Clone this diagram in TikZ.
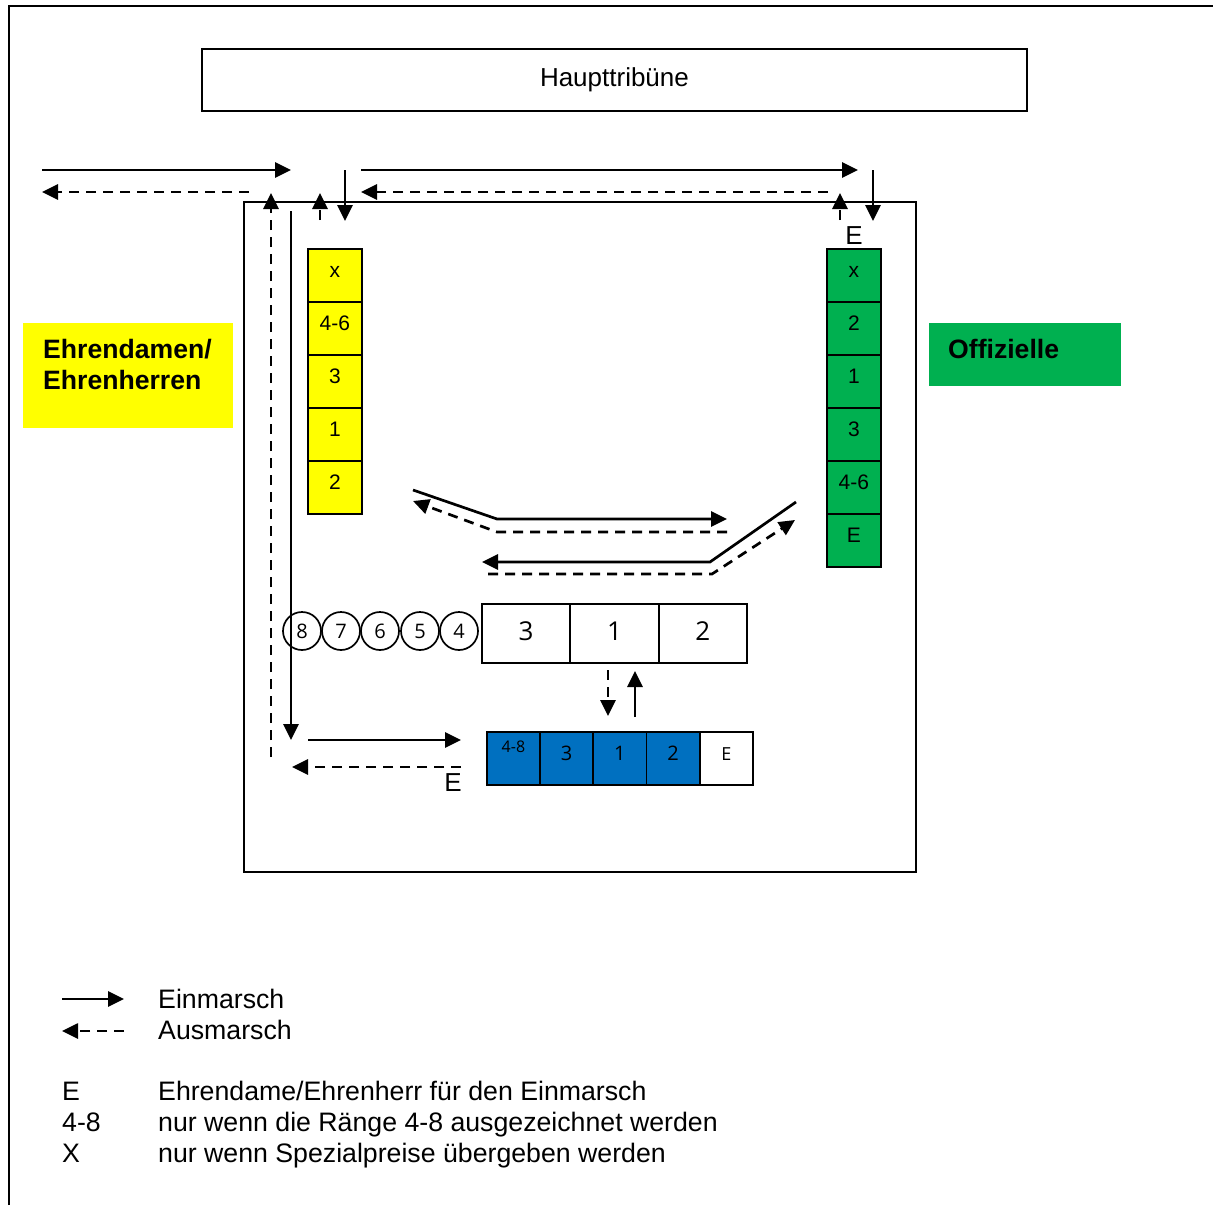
\documentclass[tikz,border=0pt]{standalone}
\usepackage{fontspec}
\setmainfont{Liberation Sans}
\newfontfamily\osans{Open Sans}
\usetikzlibrary{arrows.meta}
\definecolor{yel}{HTML}{FFFF00}
\definecolor{grn}{HTML}{00B050}
\definecolor{blu}{HTML}{0070C0}
\begin{document}
\begin{tikzpicture}[x=1pt,y=-1pt,
  ln/.style={line width=2.7pt},
  arr/.style={ln,-{Triangle[length=16pt,width=15pt]}},
  darr/.style={arr,dash pattern=on 10pt off 7pt},
  frame/.style={draw,line width=1.9pt},
  ycell/.style={draw,line width=1.7pt,fill=yel,minimum width=54pt,minimum height=53pt,inner sep=0pt,anchor=north west,font=\fontsize{21}{23}\selectfont,text height=15pt,text depth=10pt},
  gcell/.style={ycell,fill=grn},
  bigcell/.style={draw,line width=2pt,minimum width=88.3pt,minimum height=59pt,inner sep=0pt,anchor=north west,font=\osans\fontsize{26}{28}\selectfont,text height=19pt,text depth=6pt},
  bcell/.style={draw,line width=1.7pt,fill=blu,minimum width=53.2pt,minimum height=53pt,inner sep=0pt,anchor=north west,font=\osans\fontsize{20}{22}\selectfont,text height=15pt,text depth=10pt},
  circ/.style={draw,circle,line width=1.7pt,fill=white,minimum size=38pt,inner sep=0pt,font=\osans\fontsize{20}{22}\selectfont},
  lbl/.style={font=\fontsize{26}{28}\selectfont,inner sep=0pt},
  leg/.style={font=\fontsize{26.7}{29}\selectfont,inner sep=0pt,anchor=base west},
  bold/.style={font=\bfseries\fontsize{26.6}{31}\selectfont,align=left,inner sep=0pt,anchor=west}
]
\useasboundingbox (0,0) rectangle (1213,1205);
% outer frame
\draw[line width=2pt] (9,1205) -- (9,6) -- (1213,6);
% Haupttribuene
\node[frame,minimum width=825pt,minimum height=62pt,anchor=north west,font=\fontsize{26}{28}\selectfont] (haupt) at (201,48) {Haupttribüne};
% inner field
\node[frame,minimum width=672pt,minimum height=670pt,anchor=north west] (field) at (243,201) {};
% side labels
\node[fill=yel,minimum width=210pt,minimum height=105pt,anchor=north west] (ehbox) at (23,323) {};
\node[bold] (ehtext) at (43,364) {Ehrendamen/\\Ehrenherren};
\node[fill=grn,minimum width=192pt,minimum height=63pt,anchor=north west] (offbox) at (929,323) {};
\node[bold] (offtext) at (948,349) {Offizielle};
% yellow column
\foreach \t [count=\i] in {x,4-6,3,1,2}
  \node[ycell] (y\i) at (307,{248+53*(\i-1)}) {\t};
% green column
\foreach \t [count=\i] in {x,2,1,3,4-6,E}
  \node[gcell] (g\i) at (826,{248+53*(\i-1)}) {\t};
% podium
\node[bigcell] (p3) at (481,603) {3};
\node[bigcell] (p1) at (569.3,603) {1};
\node[bigcell] (p2) at (657.6,603) {2};
% circles
\node[circ] (c8) at (302,631) {8};
\node[circ] (c7) at (341,631) {7};
\node[circ] (c6) at (380,631) {6};
\node[circ] (c5) at (420,631) {5};
\node[circ] (c4) at (459,631) {4};
% blue row
\node[bcell,font=\osans\fontsize{16}{18}\selectfont,text height=12pt,text depth=24pt] (b48) at (486,731) {4-8};
\node[bcell] (b3) at (539.2,731) {3};
\node[bcell] (b1) at (592.4,731) {1};
\node[bcell] (b2) at (645.6,731) {2};
\node[bcell,fill=white,font=\osans\fontsize{18}{20}\selectfont] (bE) at (698.8,731) {E};
% E labels
\node[lbl] (e1) at (854,236) {E};
\node[lbl] (e2) at (453,783) {E};
% coordinates for arrows
\coordinate (a1s) at (42,170); \coordinate (a1e) at (291,170);
\coordinate (a2s) at (249,192); \coordinate (a2e) at (42,192);
\coordinate (a3s) at (271,757); \coordinate (a3e) at (271,193);
\coordinate (a4s) at (291,211); \coordinate (a4e) at (291,740);
\coordinate (a5s) at (320,220); \coordinate (a5e) at (320,193);
\coordinate (a6s) at (345,170); \coordinate (a6e) at (345,221);
\coordinate (a7s) at (361,170); \coordinate (a7e) at (858,170);
\coordinate (a8s) at (828,192); \coordinate (a8e) at (361,192);
\coordinate (a9s) at (840,220); \coordinate (a9e) at (840,193);
\coordinate (a10s) at (873,170); \coordinate (a10e) at (873,221);
\coordinate (d1a) at (413,490); \coordinate (d1b) at (497,519); \coordinate (d1c) at (727,519);
\coordinate (d2a) at (727,532); \coordinate (d2b) at (497,532); \coordinate (d2c) at (413,501);
\coordinate (d3a) at (796,502); \coordinate (d3b) at (710,562); \coordinate (d3c) at (482,562);
\coordinate (d4a) at (488,574); \coordinate (d4b) at (712,574); \coordinate (d4c) at (795,520);
\coordinate (v1s) at (608,670); \coordinate (v1e) at (608,716);
\coordinate (v2s) at (635,717); \coordinate (v2e) at (635,671);
\coordinate (h1s) at (308,740); \coordinate (h1e) at (461,740);
\coordinate (h2s) at (461,767); \coordinate (h2e) at (292,767);
% arrows
\draw[arr] (a1s) -- (a1e);
\draw[darr] (a2s) -- (a2e);
\draw[darr] (a3s) -- (a3e);
\draw[arr] (a4s) -- (a4e);
\draw[darr] (a5s) -- (a5e);
\draw[arr] (a6s) -- (a6e);
\draw[arr] (a7s) -- (a7e);
\draw[darr] (a8s) -- (a8e);
\draw[darr] (a9s) -- (a9e);
\draw[arr] (a10s) -- (a10e);
\draw[arr] (d1a) -- (d1b) -- (d1c);
\draw[darr] (d2a) -- (d2b) -- (d2c);
\draw[arr] (d3a) -- (d3b) -- (d3c);
\draw[darr] (d4a) -- (d4b) -- (d4c);
\draw[darr] (v1s) -- (v1e);
\draw[arr] (v2s) -- (v2e);
\draw[arr] (h1s) -- (h1e);
\draw[darr] (h2s) -- (h2e);
% legend
\coordinate (l1s) at (62,999); \coordinate (l1e) at (124,999);
\coordinate (l2s) at (124,1031); \coordinate (l2e) at (62,1031);
\draw[arr] (l1s) -- (l1e);
\draw[darr] (l2s) -- (l2e);
\node[leg] (t1) at (158,1008.5) {Einmarsch};
\node[leg] (t2) at (158,1039.5) {Ausmarsch};
\node[leg] (k1) at (62,1100.5) {E};
\node[leg] (k2) at (62,1131.5) {4-8};
\node[leg] (k3) at (62,1162.5) {X};
\node[leg] (t3) at (158,1100.5) {Ehrendame/Ehrenherr für den Einmarsch};
\node[leg] (t4) at (158,1131.5) {nur wenn die Ränge 4-8 ausgezeichnet werden};
\node[leg] (t5) at (158,1162.5) {nur wenn Spezialpreise übergeben werden};
\end{tikzpicture}
\end{document}
